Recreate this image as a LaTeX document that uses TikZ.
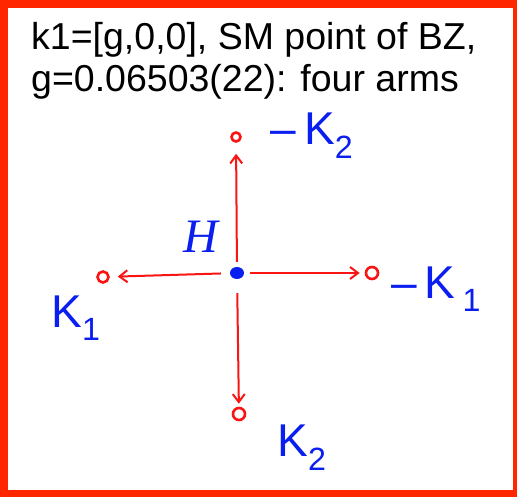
\documentclass[tikz,border=0pt]{standalone}
\usepackage{fontspec}
\setmainfont{Liberation Sans}
\setsansfont{Liberation Sans}
\newfontfamily\handH{Liberation Serif}
\usetikzlibrary{arrows.meta,shapes.geometric}
\definecolor{framered}{RGB}{255,38,0}
\definecolor{penred}{RGB}{250,20,20}
\definecolor{penblue}{RGB}{10,30,240}
\tikzset{
  title/.style={anchor=base west, inner sep=0pt, font=\fontsize{37.5}{42}\selectfont},
  ring/.style={circle, draw=penred, line width=2.6pt, minimum size=9pt, inner sep=0pt},
  centre/.style={ellipse, fill=penblue, minimum width=14pt, minimum height=12pt, inner sep=0pt},
  arm/.style={draw=penred, line width=2pt, -{Straight Barb[length=8pt,width=12pt,line width=2pt]}},
  hand/.style={text=penblue, inner sep=0pt, font=\sffamily\fontsize{46}{46}\selectfont}
}
\begin{document}
\begin{tikzpicture}[x=1pt,y=-1pt]
\useasboundingbox (0,0) rectangle (517,497);
\fill[framered] (0,0) rectangle (517,497);
\fill[white] (8,8) rectangle (513,490);
\node[title] (t1) at (31,50) {k1=[g,0,0], SM point of BZ,};
\node[title] (t2) at (31,92) {g=0.06503(22): four arms};
\node[centre] (c) at (237,273) {};
\node[ring] (mk2) at (236,137) {};
\node[ring, minimum size=11pt] (k1) at (103,277) {};
\node[ring, minimum size=12pt] (mk1) at (372,273) {};
\node[ring, minimum size=12pt] (k2) at (239,414) {};
\draw[arm, shorten <=5pt, shorten >=11pt] (c) -- (mk2);
\draw[arm, shorten <=9pt, shorten >=8pt] (c) -- (k1);
\draw[arm, shorten <=6pt, shorten >=5pt] (c) -- (mk1);
\draw[arm, shorten <=14pt, shorten >=3pt] (c) -- (k2);
\node[hand] (lmk2) at (312,136) {–\,K\textsubscript{2}};
\node[hand] (lmk1) at (436,289) {–\,K\,\textsubscript{1}};
\node[hand] (lk1) at (76,318) {K\textsubscript{1}};
\node[hand] (lk2) at (302,448) {K\textsubscript{2}};
\node[text=penblue, inner sep=0pt, font=\handH\itshape\fontsize{48}{48}\selectfont] (lh) at (201,237) {H};
\end{tikzpicture}
\end{document}
